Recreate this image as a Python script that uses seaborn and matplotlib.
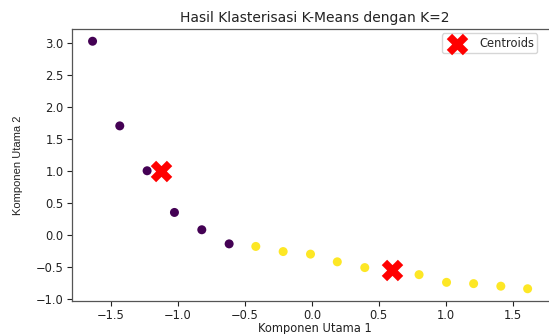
import matplotlib
matplotlib.use("Agg")
import matplotlib.pyplot as plt
import seaborn as sns
import pandas as pd

# Data
pc1 = [-1.636, -1.433, -1.229, -1.025, -0.821, -0.617,
       -0.418, -0.214, -0.010, 0.190, 0.395, 0.600, 0.800, 1.005, 1.207, 1.410, 1.610]
pc2 = [3.02, 1.70, 1.00, 0.35, 0.08, -0.14,
       -0.18, -0.26, -0.30, -0.42, -0.51, -0.55, -0.62, -0.74, -0.76, -0.80, -0.84]
cluster = [0, 0, 0, 0, 0, 0, 1, 1, 1, 1, 1, 1, 1, 1, 1, 1, 1]
centroid_x = [-1.127, 0.600]
centroid_y = [0.99, -0.555]

title = "Hasil Klasterisasi K-Means dengan K=2"
xlabel = "Komponen Utama 1"
ylabel = "Komponen Utama 2"

df = pd.DataFrame({"PC1": pc1, "PC2": pc2, "cluster": cluster})
cent = pd.DataFrame({"x": centroid_x, "y": centroid_y})

sns.set_style("ticks")
plt.rcParams["font.family"] = ["DejaVu Sans"]

fig = plt.figure(figsize=(5.49, 3.34), dpi=100)
ax = fig.add_axes([0.131, 0.099, 0.885, 0.814])

sns.scatterplot(data=df, x="PC1", y="PC2", hue="cluster",
                palette={0: "#440154", 1: "#fde725"}, s=42, linewidth=0,
                legend=False, ax=ax)
sns.scatterplot(data=cent, x="x", y="y", color="red", marker="X", s=240,
                linewidth=0, label="Centroids", ax=ax)

ax.set_xlim(-1.79, 1.835)
ax.set_ylim(-1.03, 3.21)
ax.set_xticks([-1.5, -1.0, -0.5, 0.0, 0.5, 1.0, 1.5])
ax.set_yticks([-1.0, -0.5, 0.0, 0.5, 1.0, 1.5, 2.0, 2.5, 3.0])
ax.tick_params(axis="x", labelsize=8.3, length=3.5, width=0.8, colors="#222222", pad=2)
ax.tick_params(axis="y", labelsize=8.3, length=3.5, width=0.8, colors="#222222", pad=2.5)
for sp in ax.spines.values():
    sp.set_color("#555555")
    sp.set_linewidth(0.9)

ax.set_title(title, fontsize=10, pad=5, color="#222222")
ax.set_xlabel(xlabel, fontsize=8.3, labelpad=0, color="#222222")
ax.set_ylabel(ylabel, fontsize=8, labelpad=9, color="#222222",
              family=["Liberation Sans", "DejaVu Sans"])

ax.legend(loc="upper right", bbox_to_anchor=(0.97, 1.005), fontsize=8.3,
          frameon=True, framealpha=0.8, edgecolor="#cccccc", fancybox=True,
          handletextpad=0.9, borderpad=0.3, markerscale=1.0)

fig.savefig("out.png", dpi=100)
